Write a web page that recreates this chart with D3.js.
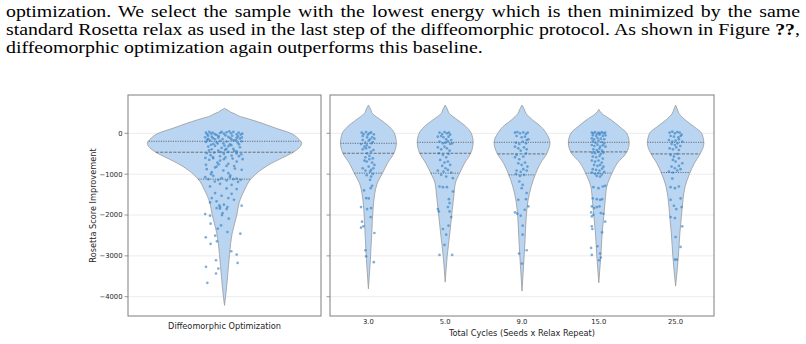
<!DOCTYPE html>
<html>
<head>
<meta charset="utf-8">
<script src="https://cdn.jsdelivr.net/npm/d3@7"></script>
<style>
body { margin: 0; background: #fff; }
</style>
</head>
<body>
<svg id="svg" width="806" height="344"></svg>
<script>
// paragraph lines above the figure
const textLines = [
  ["optimization. We select the sample with the lowest energy which is then minimized by the same"],
  ["standard Rosetta relax as used in the last step of the diffeomorphic protocol. As shown in Figure ", "??", ","],
  ["diffeomorphic optimization again outperforms this baseline."]
];

// categories and ticks
const leftCats = ["Diffeomorphic Optimization"];
const rightCats = ["3.0", "5.0", "9.0", "15.0", "25.0"];
const yTicks = [0, -1000, -2000, -3000, -4000];

// violin outlines: [score, relative width %]
const profDiffeo = [[610,0],[570,4],[520,8],[470,14],[420,19],[370,28],[324,36],[244,49],[122,67],[0,86],[-120,95],[-244,100],[-350,97],[-463,89],[-600,75],[-732,61],[-900,47],[-1122,34],[-1383,26],[-1700,19],[-1993,16],[-2440,10],[-2968,6.5],[-3497,4],[-3985,1.5],[-4212,0]];
const prof3 = [[690,0],[600,6.5],[488,13],[324,41],[162,68],[0,85],[-244,91],[-488,83],[-732,62],[-976,46],[-1220,29],[-1463,21],[-1870,15],[-2440,11],[-3090,6.5],[-3805,0]];
const prof5 = [[690,0],[600,6.5],[488,13],[324,41],[162,68],[0,85],[-220,91],[-488,83],[-732,63],[-976,47],[-1220,33],[-1463,29],[-1870,23],[-2440,15],[-3010,6.5],[-3643,0]];
const prof9 = [[690,0],[600,6.5],[488,13],[324,35],[162,62],[0,79],[-229,91],[-489,81],[-733,60],[-1017,43],[-1302,30],[-1627,20],[-2034,14],[-2603,10],[-3253,5],[-3862,0]];
const prof15 = [[585,0],[487,10],[324,41],[162,68],[0,91],[-229,99],[-464,91],[-733,60],[-977,43],[-1302,26],[-1627,21],[-2034,16],[-2440,11],[-3009,6.5],[-3660,0]];
const prof25 = [[690,0],[600,5],[487,11],[324,32],[162,60],[0,85],[-245,92],[-489,81],[-733,61],[-977,46],[-1302,31],[-1627,24],[-2034,19],[-2440,14],[-3009,9],[-3740,0]];

// quartiles: [upper, median, lower]
const quartDiffeo = [-195, -463, -1122];
const quart3 = [-244, -488, -976];
const quart5 = [-220, -488, -976];
const quart9 = [-220, -504, -1016];
const quart15 = [-220, -455, -976];
const quart25 = [-220, -504, -960];

// strip points: [jitter in category units, score]
const ptsDiffeo = [[-0.096,15],[-0.089,-24],[-0.079,33],[-0.07,-8],[-0.061,16],[-0.041,-40],[-0.023,8],[-0.015,33],[-0.003,-8],[0.011,25],[0.025,49],[0.034,0],[0.046,33],[0.063,-24],[0.073,16],[0.084,-32],[0.092,-8],
[-0.1,-98],[-0.084,-138],[-0.066,-81],[-0.049,-146],[-0.032,-106],[0.02,-89],[0.037,-154],[0.063,-114],[0.08,-130],
[-0.096,-211],[-0.075,-179],[-0.058,-260],[-0.041,-219],[-0.023,-187],[-0.006,-244],[0.011,-203],[0.028,-268],[0.049,-171],[0.068,-227],[0.089,-195],
[-0.084,-325],[-0.066,-390],[-0.049,-309],[-0.032,-423],[-0.015,-358],[0.003,-406],[0.02,-317],[0.046,-382],[0.063,-439],[0.08,-341],
[-0.092,-488],[-0.072,-536],[-0.054,-471],[-0.023,-561],[-0.003,-504],[0.02,-455],[0.037,-545],[0.063,-496],[0.087,-512],
[-0.096,-772],[-0.079,-650],[-0.058,-610],[-0.037,-715],[-0.023,-667],[-0.003,-634],[0.02,-748],[0.042,-618],[0.063,-691],[0.094,-634],[-0.099,-602],[-0.041,-813],[0.011,-797],
[-0.092,-878],[-0.066,-951],[-0.049,-837],[-0.006,-910],[0.02,-976],[0.054,-862],[0.089,-894],
[-0.1,-1073],[-0.084,-1122],[-0.058,-1041],[-0.032,-1138],[-0.015,-1097],[0.011,-1154],[0.028,-1073],[0.046,-1122],[0.063,-1106],[0.084,-1138],
[-0.075,-1300],[-0.023,-1236],[0.011,-1349],[0.037,-1260],[0.063,-1366],
[-0.066,-1585],[-0.049,-1463],[-0.041,-1666],[-0.015,-1528],[-0.003,-1748],[0.02,-1585],[0.037,-1480],[0.049,-1626],[-0.023,-1805],
[-0.075,-1691],[-0.041,-1829],[-0.027,-1764],[0.011,-1854],[0.089,-1772],
[-0.1,-1977],[-0.075,-2017],[-0.072,-2212],[-0.097,-2546],[-0.072,-2708],[-0.035,-2334],[-0.048,-2505],[-0.039,-2643],[-0.018,-2253],[0.015,-2416],[0.082,-2456],[0.035,-2887],[0.063,-2968],[0.068,-3172],[-0.044,-3107],[-0.096,-3269],[-0.032,-3310],[-0.044,-3432],[-0.089,-3660],[-0.024,-1847],[-0.013,-2001],[0.015,-1806],[0.022,-2090],[-0.010,-1952],
[-0.085,-60],[-0.05,-20],[-0.03,-70],[0.005,-50],[0.04,-60],[0.07,-75],[0.09,-100],[-0.09,-160],[-0.06,-120],[-0.01,-140],[0.03,-120],[0.06,-170],[-0.07,-280],[-0.035,-250],[0.0,-300],[0.035,-290],[0.075,-270],[-0.08,-420],[-0.02,-460],[0.01,-380],[0.05,-430],[-0.06,-580],[0.005,-590],[0.075,-560],[-0.03,-760],[0.05,-800],[-0.07,-1000],[0.03,-1030],[-0.05,-1180],[0.07,-1190]];

const pts3 = [[-0.087,15],[-0.061,-17],[-0.030,32],[0.013,0],[0.035,23],[0.070,-25],[-0.074,-66],[-0.009,-34],[0.048,-99],[-0.096,-261],[-0.039,-229],[0.022,-147],[0.057,-212],[-0.022,-294],[0.004,-180],[0.039,-245],[0.078,-131],[-0.074,-164],[-0.017,-99],[-0.052,-326],[-0.074,-391],[-0.030,-367],[0.013,-342],[0.065,-408],[0.035,-448],[-0.017,-489],[-0.039,-586],[0.013,-554],[0.057,-611],[-0.052,-668],[-0.022,-692],[0.013,-635],[0.048,-716],[0.078,-773],[-0.074,-855],[0.004,-814],[0.035,-895],[0.065,-855],[-0.039,-912],[0.022,-936],[-0.022,-1025],[0.035,-1058],[0.057,-993],[0.022,-1139],[0.048,-1286],[0.030,-1342],[-0.057,-1399],[-0.030,-1586],[0.004,-1594],[-0.096,-1806],[0.035,-1830],[-0.017,-1855],[-0.083,-2164],[-0.065,-2277],[0.030,-2050],[-0.096,-2310],[0.078,-2440],[-0.039,-2863],[-0.030,-3009],[0.070,-3155]];

const pts5 = [[-0.074,15],[-0.039,-17],[-0.009,32],[0.022,0],[0.048,15],[0.065,-34],[-0.096,-82],[-0.052,-66],[-0.022,-99],[0.013,-147],[0.043,-82],[0.078,-164],[-0.074,-204],[-0.030,-245],[0.004,-229],[0.035,-196],[0.065,-261],[0.091,-245],[-0.096,-342],[-0.052,-391],[-0.009,-326],[0.022,-367],[0.057,-424],[-0.083,-489],[-0.030,-529],[0.013,-586],[0.043,-505],[-0.065,-651],[-0.009,-716],[0.035,-692],[0.065,-773],[-0.039,-798],[0.004,-855],[-0.096,-912],[-0.022,-936],[0.035,-895],[0.078,-960],[-0.052,-1017],[0.013,-1058],[0.100,-1099],[-0.074,-1302],[-0.030,-1318],[0.022,-1318],[0.100,-1424],[0.048,-1611],[0.057,-1708],[0.035,-1806],[-0.096,-1855],[-0.083,-1912],[0.057,-1912],[-0.030,-2342],[0.043,-2261],[0.078,-2050],[-0.009,-2733],[-0.074,-2977],[0.091,-2977],[0.013,-2481]];

const pts9 = [[-0.091,15],[-0.061,32],[-0.026,0],[0.017,23],[0.052,-17],[0.074,15],[-0.070,-66],[-0.004,-99],[0.039,-82],[0.061,-164],[-0.078,-229],[-0.035,-261],[0.009,-204],[0.052,-245],[0.083,-147],[-0.091,-326],[-0.048,-367],[0.026,-342],[0.061,-391],[-0.017,-424],[-0.070,-529],[-0.091,-586],[-0.035,-635],[0.017,-570],[0.052,-489],[-0.048,-733],[-0.004,-773],[0.039,-716],[0.070,-814],[-0.070,-912],[-0.017,-944],[0.017,-879],[0.061,-912],[-0.078,-993],[-0.026,-1042],[0.026,-1017],[-0.035,-1180],[0.009,-1261],[-0.004,-1342],[0.061,-1464],[-0.048,-1627],[0.052,-1611],[0.083,-1790],[-0.091,-1936],[-0.061,-1968],[-0.017,-2017],[0.035,-1871],[0.009,-2261],[0.009,-2481],[-0.039,-2944],[0.061,-2863],[0.000,-3188]];

const pts15 = [[-0.091,15],[-0.070,0],[-0.048,32],[-0.026,-17],[-0.004,15],[0.017,0],[0.039,32],[0.061,0],[0.083,15],[-0.078,-50],[-0.035,-66],[0.009,-34],[0.052,-66],[0.087,-50],[-0.091,-123],[-0.061,-147],[-0.017,-115],[0.026,-131],[0.070,-147],[-0.078,-196],[-0.043,-229],[-0.004,-180],[0.039,-212],[0.070,-245],[-0.091,-286],[-0.057,-310],[-0.017,-277],[0.017,-326],[0.052,-294],[0.087,-326],[-0.070,-391],[-0.026,-408],[0.009,-375],[0.043,-424],[-0.087,-473],[-0.048,-489],[-0.009,-456],[0.026,-505],[0.061,-473],[-0.078,-570],[-0.035,-586],[0.009,-554],[0.052,-619],[-0.091,-668],[-0.048,-692],[-0.004,-668],[0.039,-716],[-0.061,-773],[-0.017,-798],[0.017,-773],[0.061,-814],[-0.078,-879],[-0.035,-895],[0.009,-912],[0.043,-863],[-0.091,-960],[-0.048,-993],[-0.004,-977],[0.039,-1009],[0.070,-944],[-0.026,-1042],[0.017,-1058],[-0.070,-1318],[-0.004,-1342],[0.052,-1302],[0.083,-1286],[-0.078,-1594],[-0.026,-1611],[0.017,-1627],[0.043,-1611],[-0.091,-1790],[-0.061,-1830],[-0.026,-1806],[0.009,-1790],[-0.100,-1936],[-0.070,-1993],[0.026,-1952],[0.061,-1969],[-0.091,-2034],[0.083,-2164],[-0.091,-2277],[-0.083,-2342],[0.043,-2424],[-0.100,-2806],[0.017,-2944],[-0.091,-2977],[0.026,-3042],[0.004,-3107],[-0.017,-2765]];

const pts25 = [[-0.078,15],[-0.043,40],[-0.009,0],[0.022,32],[0.052,15],[0.078,-34],[-0.065,-66],[-0.022,-82],[0.035,-99],[0.065,-66],[-0.087,-164],[-0.043,-204],[0.000,-180],[0.043,-147],[0.087,-204],[-0.052,-261],[-0.009,-286],[0.026,-245],[0.061,-310],[-0.078,-367],[-0.035,-391],[0.009,-342],[0.043,-408],[-0.065,-529],[-0.022,-570],[0.022,-505],[-0.035,-651],[0.000,-692],[0.043,-611],[0.087,-733],[-0.052,-814],[-0.009,-855],[0.043,-798],[0.065,-879],[-0.087,-936],[-0.035,-960],[0.022,-912],[-0.043,-1107],[-0.065,-1318],[-0.009,-1342],[0.043,-1302],[-0.065,-1627],[0.065,-1594],[-0.022,-1773],[0.009,-1855],[0.078,-1806],[-0.065,-2050],[-0.009,-2074],[0.087,-2277],[0.000,-2538],[0.065,-2782],[-0.009,-3090],[0.017,-3090]];

const rightProfiles = [prof3, prof5, prof9, prof15, prof25];
const rightQuarts = [quart3, quart5, quart9, quart15, quart25];
const rightPts = [pts3, pts5, pts9, pts15, pts25];

const svg = d3.select('#svg');

// ---- paragraph: the page scan is wider than the font, so stretch it a bit
const textLeft = 6, textRight = 800, lastLineEnd = 483;
const para = svg.append('g');
const lineNodes = textLines.map((parts, i) => {
  const t = para.append('text')
    .attr('x', 0)
    .attr('y', 17.3 + i * 17.7)
    .attr('font-family', "'Liberation Serif', 'Times New Roman', serif")
    .attr('font-size', '17.5px')
    .attr('fill', '#000');
  parts.forEach(p => {
    t.append('tspan').text(p).attr('font-weight', p === '??' ? 'bold' : null);
  });
  return t;
});
const sx = (lastLineEnd - textLeft) / lineNodes[2].node().getComputedTextLength();
para.attr('transform', `translate(${textLeft},0) scale(${sx},1)`);
lineNodes.slice(0, 2).forEach((t, i) => {
  const full = textLines[i].join('');
  const spaces = (full.match(/ /g) || []).length;
  const w = t.node().getComputedTextLength();
  t.attr('word-spacing', ((textRight - textLeft) / sx - w) / spaces);
});

// ---- shared y scale
const plotTop = 95, plotBottom = 316;
const y = d3.scaleLinear().domain([-4472, 938]).range([plotBottom, plotTop]);

const fillCol = '#b9d5f2', edgeCol = '#999', dotCol = '#2b7bc0';

function halfAt(prof, v) {
  for (let i = 0; i < prof.length - 1; i++) {
    const a = prof[i], b = prof[i + 1];
    if (v <= a[0] && v >= b[0]) {
      const t = (a[0] - v) / (a[0] - b[0]);
      return a[1] + t * (b[1] - a[1]);
    }
  }
  return 0;
}

function panel(x0, x1, cats, profiles, quarts, pts, showLabels) {
  const g = svg.append('g');
  const x = d3.scaleBand().domain(cats).range([x0, x1]);
  const bw = x.bandwidth();
  const wScale = d3.scaleLinear().domain([0, 100]).range([0, bw * 0.4]);

  // grid
  g.selectAll(null).data(yTicks).enter().append('line')
    .attr('x1', x0).attr('x2', x1)
    .attr('y1', d => y(d)).attr('y2', d => y(d))
    .attr('stroke', '#ececec').attr('stroke-width', 1);

  cats.forEach((c, i) => {
    const cx = x(c) + bw / 2;
    const prof = profiles[i];
    const area = d3.area().curve(d3.curveMonotoneY)
      .y(d => y(d[0]))
      .x0(d => cx - wScale(d[1]))
      .x1(d => cx + wScale(d[1]));
    g.append('path').attr('d', area(prof))
      .attr('fill', fillCol).attr('stroke', edgeCol).attr('stroke-width', 0.8);

    quarts[i].forEach((q, k) => {
      const hw = wScale(halfAt(prof, q));
      g.append('line')
        .attr('x1', cx - hw).attr('x2', cx + hw)
        .attr('y1', y(q)).attr('y2', y(q))
        .attr('stroke', '#555').attr('stroke-width', 0.8)
        .attr('stroke-dasharray', k === 1 ? '3,1.4' : '1.2,1.2');
    });

    g.selectAll(null).data(pts[i]).enter().append('circle')
      .attr('cx', d => cx + d[0] * bw)
      .attr('cy', d => y(d[1]))
      .attr('r', 1.35)
      .attr('fill', dotCol)
      .attr('fill-opacity', 0.6);
  });

  // frame
  g.append('rect').attr('x', x0).attr('y', plotTop)
    .attr('width', x1 - x0).attr('height', plotBottom - plotTop)
    .attr('fill', 'none').attr('stroke', '#7f7f7f').attr('stroke-width', 1);

  // y ticks
  g.selectAll(null).data(yTicks).enter().append('line')
    .attr('x1', x0 - 3.5).attr('x2', x0)
    .attr('y1', d => y(d)).attr('y2', d => y(d))
    .attr('stroke', '#7f7f7f').attr('stroke-width', 0.8);
  if (showLabels) {
    g.selectAll(null).data(yTicks).enter().append('text')
      .attr('x', x0 - 5.5).attr('y', d => y(d)).attr('dy', '0.35em')
      .attr('text-anchor', 'end')
      .attr('font-family', 'DejaVu Sans, sans-serif').attr('font-size', '6.8px')
      .attr('fill', '#262626')
      .text(d => d3.format('d')(d).replace('-', '\u2212'));
  }
  return { g, x, bw };
}

const L = panel(128, 321, leftCats, [profDiffeo], [quartDiffeo], [ptsDiffeo], true);
const R = panel(330, 714, rightCats, rightProfiles, rightQuarts, rightPts, false);

// x tick labels
L.g.append('text')
  .attr('x', L.x(leftCats[0]) + L.bw / 2).attr('y', 329)
  .attr('text-anchor', 'middle')
  .attr('font-family', 'DejaVu Sans, sans-serif').attr('font-size', '8.2px')
  .attr('fill', '#262626').text(leftCats[0]);

R.g.selectAll(null).data(rightCats).enter().append('text')
  .attr('x', d => R.x(d) + R.bw / 2).attr('y', 324)
  .attr('text-anchor', 'middle')
  .attr('font-family', 'DejaVu Sans, sans-serif').attr('font-size', '6.8px')
  .attr('fill', '#262626').text(d => d);

// axis titles
svg.append('text')
  .attr('x', 522).attr('y', 336)
  .attr('text-anchor', 'middle')
  .attr('font-family', 'DejaVu Sans, sans-serif').attr('font-size', '8.2px')
  .attr('fill', '#262626').text('Total Cycles (Seeds x Relax Repeat)');

svg.append('text')
  .attr('transform', 'translate(96,205.5) rotate(-90)')
  .attr('text-anchor', 'middle')
  .attr('font-family', 'DejaVu Sans, sans-serif').attr('font-size', '8.2px')
  .attr('fill', '#262626').text('Rosetta Score Improvement');
</script>
</body>
</html>
